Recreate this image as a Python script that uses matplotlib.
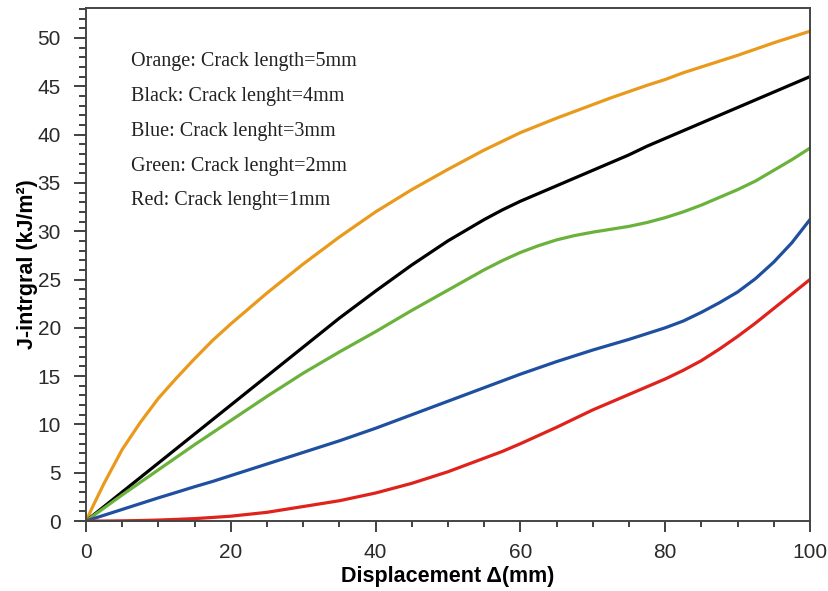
import numpy as np
import matplotlib.pyplot as plt
from matplotlib.ticker import MultipleLocator

# Displacement (mm) and J-integral (kJ/m^2) for each crack length
disp = [0, 1, 2.5, 5, 7.5, 10, 12.5, 15, 17.5, 20, 25, 30, 35, 40, 45, 50,
        55, 57.5, 60, 62.5, 65, 67.5, 70, 72.5, 75, 77.5,
        80, 82.5, 85, 87.5, 90, 92.5, 95, 97.5, 100]
j_5mm = [0, 1.6, 3.9, 7.4, 10.2, 12.7, 14.8, 16.8, 18.7, 20.4, 23.6, 26.6, 29.4, 32.0, 34.3, 36.4,
         38.4, 39.3, 40.2, 40.95, 41.7, 42.4, 43.1, 43.8, 44.45, 45.1,
         45.7, 46.4, 47.0, 47.6, 48.2, 48.85, 49.5, 50.1, 50.7]
j_4mm = [0, 0.6, 1.5, 3.0, 4.5, 6.0, 7.5, 9.0, 10.5, 12.0, 15.0, 18.0, 21.0, 23.8, 26.5, 29.0,
         31.2, 32.2, 33.1, 33.9, 34.7, 35.5, 36.3, 37.1, 37.9, 38.8,
         39.6, 40.4, 41.2, 42.0, 42.8, 43.6, 44.4, 45.2, 46.0]
j_3mm = [0, 0.24, 0.6, 1.2, 1.8, 2.4, 2.97, 3.55, 4.1, 4.7, 5.9, 7.1, 8.3, 9.6, 11.0, 12.4,
         13.8, 14.5, 15.2, 15.85, 16.5, 17.1, 17.7, 18.25, 18.8, 19.4,
         20.0, 20.7, 21.6, 22.6, 23.7, 25.1, 26.8, 28.8, 31.2]
j_2mm = [0, 0.54, 1.35, 2.7, 4.0, 5.3, 6.6, 7.9, 9.15, 10.4, 12.9, 15.3, 17.5, 19.6, 21.8, 23.9,
         26.0, 26.95, 27.8, 28.5, 29.1, 29.55, 29.9, 30.2, 30.5, 30.9,
         31.4, 32.0, 32.7, 33.5, 34.3, 35.2, 36.3, 37.4, 38.6]
j_1mm = [0, 0, 0, 0.02, 0.05, 0.1, 0.17, 0.25, 0.37, 0.5, 0.9, 1.5, 2.1, 2.9, 3.9, 5.1,
         6.5, 7.2, 8.0, 8.85, 9.7, 10.6, 11.5, 12.3, 13.1, 13.9,
         14.7, 15.6, 16.6, 17.8, 19.1, 20.5, 22.0, 23.5, 25.0]

notes = ["Orange: Crack length=5mm", "Black: Crack lenght=4mm",
         "Blue: Crack lenght=3mm", "Green: Crack lenght=2mm",
         "Red: Crack lenght=1mm"]

plt.rcParams['font.family'] = ['Liberation Sans', 'DejaVu Sans']

fig = plt.figure(figsize=(8.29, 5.91), dpi=100)
ax = fig.add_axes([0.1037, 0.1184, 0.8733, 0.868])

style = dict(lw=2.3, solid_joinstyle='round', solid_capstyle='round')
ax.plot(disp, j_5mm, color='#e99a1c', **style)
ax.plot(disp, j_4mm, color='black', **style)
ax.plot(disp, j_2mm, color='#6ab23c', **style)
ax.plot(disp, j_3mm, color='#1f4f9f', **style)
ax.plot(disp, j_1mm, color='#e0221c', **style)

ax.set_xlim(0, 100)
ax.set_ylim(0, 53.1)
ax.xaxis.set_major_locator(MultipleLocator(20))
ax.xaxis.set_minor_locator(MultipleLocator(5))
ax.yaxis.set_major_locator(MultipleLocator(5))
ax.yaxis.set_minor_locator(MultipleLocator(1))
ax.tick_params(axis='both', which='both', direction='out', width=1.3,
               color='#333333', labelsize=15, labelcolor='#2a2a2a')
ax.tick_params(axis='x', which='major', length=8, pad=8)
ax.tick_params(axis='x', which='minor', length=4.5)
ax.tick_params(axis='y', which='major', length=9, pad=9)
ax.tick_params(axis='y', which='minor', length=5)
for s in ax.spines.values():
    s.set_linewidth(1.4)
    s.set_color('#444444')

ax.set_xlabel('Displacement Δ(mm)', fontsize=15.5, fontweight='bold', labelpad=3)
ax.set_ylabel('J-intrgral (kJ/m²)', fontsize=15.5, fontweight='bold', labelpad=0)

for i, t in enumerate(notes):
    ax.text(0.062, 0.895 - i * 0.0677, t, transform=ax.transAxes,
            family='Liberation Serif', fontsize=14.5, color='#222222', va='center')

fig.savefig('out.png', dpi=100)
